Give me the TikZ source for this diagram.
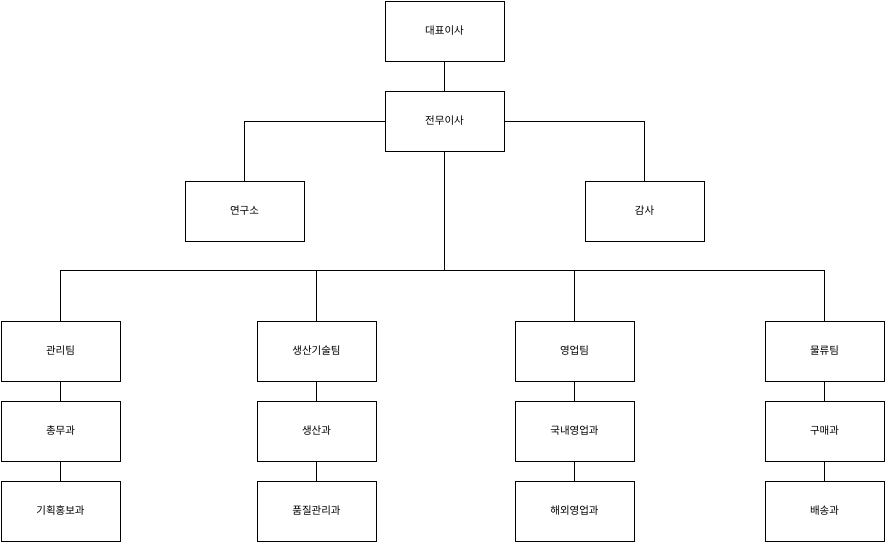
\documentclass[tikz,border=0pt]{standalone}
\usepackage{fontspec}
\newfontfamily\kr{Noto Sans CJK KR}
\begin{document}
\begin{tikzpicture}[x=1pt,y=-1pt,
  box/.style={draw=black,line width=0.8pt,fill=white,minimum width=119pt,minimum height=60pt,inner sep=0pt,font=\kr\fontsize{10.5}{12}\selectfont},
  conn/.style={draw=black,line width=0.8pt}]
\useasboundingbox (0,0) rectangle (896,553);
\node[box] (ceo) at (444.5,31) {대표이사};
\node[box] (vp) at (444.5,121) {전무이사};
\node[box] (lab) at (244.5,211) {연구소};
\node[box] (aud) at (644.5,211) {감사};
\node[box] (t1) at (60.5,351) {관리팀};
\node[box] (t2) at (316.5,351) {생산기술팀};
\node[box] (t3) at (574.5,351) {영업팀};
\node[box] (t4) at (824.5,351) {물류팀};
\node[box] (a1) at (60.5,431) {총무과};
\node[box] (a2) at (316.5,431) {생산과};
\node[box] (a3) at (574.5,431) {국내영업과};
\node[box] (a4) at (824.5,431) {구매과};
\node[box] (b1) at (60.5,511) {기획홍보과};
\node[box] (b2) at (316.5,511) {품질관리과};
\node[box] (b3) at (574.5,511) {해외영업과};
\node[box] (b4) at (824.5,511) {배송과};
\coordinate (bus) at (444.5,270);
\draw[conn] (ceo) -- (vp);
\draw[conn] (vp.west) -| (lab.north);
\draw[conn] (vp.east) -| (aud.north);
\draw[conn] (vp.south) -- (bus);
\foreach \t in {t1,t2,t3,t4} \draw[conn] (bus) -| (\t.north);
\foreach \i in {1,2,3,4} {\draw[conn] (t\i) -- (a\i); \draw[conn] (a\i) -- (b\i);}
\end{tikzpicture}
\end{document}
